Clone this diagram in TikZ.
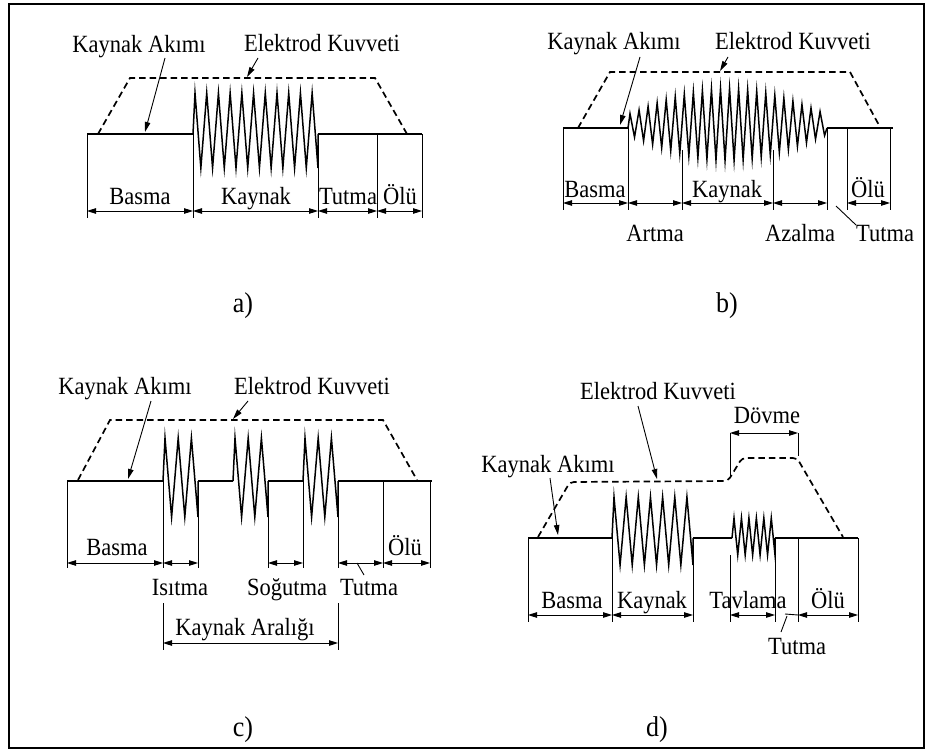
\documentclass[tikz,border=0pt]{standalone}
\usepackage{graphicx}
\usepackage{fontspec}
\setmainfont{Liberation Serif}
\usetikzlibrary{arrows.meta}
\newcommand\zigzag[6]{% x0 x1 n top bottom level
  \pgfmathsetmacro\zzp{(#2-#1-2)/(#3-0.5)}
  \pgfmathtruncatemacro\zzn{#3-1}
  \draw[wave] (#1,#6) \foreach \k in {0,...,\zzn} { -- ({#1+2+\k*\zzp},#4) -- ({#1+2+(\k+0.5)*\zzp},#5) } -- (#2,#6);
}
\newcommand\tall[1]{\scalebox{1}[1.1]{#1}}
\begin{document}
\begin{tikzpicture}[x=1pt,y=-1pt,
  lbl/.style={font=\fontsize{22.5}{26}\selectfont, inner sep=0pt, anchor=base, yshift=-8pt},
  plbl/.style={font=\fontsize{26}{30}\selectfont, inner sep=0pt, anchor=base, yshift=-9pt},
  cur/.style={line width=1.3pt},
  wave/.style={line width=1.5pt, line join=miter, miter limit=20},
  sep/.style={line width=0.8pt},
  force/.style={line width=1.7pt, dash pattern=on 6.5pt off 4pt},
  dim/.style={line width=0.9pt, {Triangle[length=9pt,width=5.5pt]}-{Triangle[length=9pt,width=5.5pt]}},
  lead/.style={line width=0.9pt, -{Triangle[length=10pt,width=5.5pt]}},
  leadplain/.style={line width=0.9pt},
]
\useasboundingbox (0,0) rectangle (928,751);
\fill[white] (0,0) rectangle (928,751);
\draw[line width=1.6pt] (9,4) rectangle (924,748);

% ================= panel a =================
\draw[force] (98,134) -- (130,78) -- (375,78) -- (407,134);
\draw[cur] (87,134) -- (193,134);
\zigzag{193}{318}{11}{93}{168}{134}
\draw[cur] (318,134) -- (422,134);
\foreach \x in {87,193,318,377,422} \draw[sep] (\x,134) -- (\x,218);
\coordinate (a0) at (87,211); \coordinate (a1) at (193,211);
\coordinate (a2) at (318,211); \coordinate (a3) at (377,211);
\coordinate (a4) at (422,211);
\draw[dim] (a0) -- (a1); \draw[dim] (a1) -- (a2);
\draw[dim] (a2) -- (a3); \draw[dim] (a3) -- (a4);
\node[lbl] (aBasma) at (140,197) {\tall{Basma}};
\node[lbl] (aKaynak) at (256,197) {\tall{Kaynak}};
\node[lbl] (aTutma) at (348,197) {\tall{Tutma}};
\node[lbl] (aOlu) at (400,197) {\tall{Ölü}};
\node[lbl] (aKA) at (139,45) {\tall{Kaynak Akımı}};
\node[lbl] (aEK) at (322,44) {\tall{Elektrod Kuvveti}};
\coordinate (aKAs) at (165,58);
\coordinate (aKAt) at (145,132);
\coordinate (aEKs) at (258,58);
\coordinate (aEKt) at (247,77);
\draw[lead] (aKAs) -- (aKAt);
\draw[lead] (aEKs) -- (aEKt);
\node[plbl] (alab) at (243,303) {\tall{a)}};

% ================= panel b =================
\draw[force] (578,128) -- (610,72) -- (850,72) -- (880,127);
\draw[cur] (563,128) -- (628,128);
\draw[wave] (628,128) \foreach \k in {0,...,21} {
   -- ({630+\k*9.05},{124.5-(10+26*sin(180*((\k*9.05+2)/199)))})
   -- ({630+(\k+0.5)*9.05},{124.5+(10+26*sin(180*(((\k+0.5)*9.05+2)/199)))}) } -- (827,128);
\draw[cur] (827,128) -- (893,128);
\foreach \x in {563,628,827,847,890} \draw[sep] (\x,128) -- (\x,210);
\foreach \x in {682,773} \draw[sep] (\x,150) -- (\x,210);
\coordinate (b0) at (563,203); \coordinate (b1) at (628,203);
\coordinate (b2) at (682,203); \coordinate (b3) at (773,203);
\coordinate (b4) at (827,203); \coordinate (b5) at (847,203);
\coordinate (b6) at (890,203);
\draw[dim] (b0) -- (b1); \draw[dim] (b1) -- (b2);
\draw[dim] (b2) -- (b3); \draw[dim] (b3) -- (b4);
\draw[dim] (b5) -- (b6);
\node[lbl] (bBasma) at (595,190) {\tall{Basma}};
\node[lbl] (bKaynak) at (727,190) {\tall{Kaynak}};
\node[lbl] (bOlu) at (868,190) {\tall{Ölü}};
\node[lbl] (bArtma) at (655,233) {\tall{Artma}};
\node[lbl] (bAzalma) at (800,233) {\tall{Azalma}};
\node[lbl] (bTutma) at (885,233) {\tall{Tutma}};
\coordinate (bTs) at (836,206);
\coordinate (bTe) at (856,225);
\draw[leadplain] (bTs) -- (bTe);
\node[lbl] (bKA) at (614,42) {\tall{Kaynak Akımı}};
\node[lbl] (bEK) at (793,42) {\tall{Elektrod Kuvveti}};
\coordinate (bKAs) at (640,57);
\coordinate (bKAt) at (620,125);
\coordinate (bEKs) at (728,57);
\coordinate (bEKt) at (720,71);
\draw[lead] (bKAs) -- (bKAt);
\draw[lead] (bEKs) -- (bEKt);
\node[plbl] (blab) at (727,303) {\tall{b)}};

% ================= panel c =================
\draw[force] (78,480) -- (110,420) -- (383,420) -- (417,480);
\draw[cur] (67,481) -- (163,481);
\zigzag{163}{198}{3}{438}{517}{481}
\draw[cur] (198,481) -- (233,481);
\zigzag{233}{268}{3}{438}{517}{481}
\draw[cur] (268,481) -- (303,481);
\zigzag{303}{338}{3}{438}{517}{481}
\draw[cur] (338,481) -- (432,481);
\foreach \x in {67,163,268,303,383,430} \draw[sep] (\x,481) -- (\x,568);
\foreach \x in {198,338} \draw[sep] (\x,517) -- (\x,568);
\coordinate (c0) at (67,563); \coordinate (c1) at (163,563);
\coordinate (c2) at (198,563); \coordinate (c3) at (268,563);
\coordinate (c4) at (303,563); \coordinate (c5) at (338,563);
\coordinate (c6) at (383,563); \coordinate (c7) at (430,563);
\draw[dim] (c0) -- (c1); \draw[dim] (c1) -- (c2);
\draw[dim] (c3) -- (c4); \draw[dim] (c5) -- (c6);
\draw[dim] (c6) -- (c7);
\node[lbl] (cBasma) at (117,547) {\tall{Basma}};
\node[lbl] (cOlu) at (405,547) {\tall{Ölü}};
\node[lbl] (cIsitma) at (180,587) {\tall{Isıtma}};
\node[lbl] (cSogutma) at (287,587) {\tall{Soğutma}};
\node[lbl] (cTutma) at (369,587) {\tall{Tutma}};
\coordinate (cTs) at (357,563);
\coordinate (cTe) at (364,575);
\draw[leadplain] (cTs) -- (cTe);
\draw[sep] (163,603) -- (163,650);
\draw[sep] (338,603) -- (338,650);
\coordinate (cA0) at (163,643); \coordinate (cA1) at (338,643);
\draw[dim] (cA0) -- (cA1);
\node[lbl] (cAral) at (245,627) {\tall{Kaynak Aralığı}};
\node[lbl] (cKA) at (125,386) {\tall{Kaynak Akımı}};
\node[lbl] (cEK) at (312,386) {\tall{Elektrod Kuvveti}};
\coordinate (cKAs) at (151,401);
\coordinate (cKAt) at (128,479);
\coordinate (cEKs) at (248,401);
\coordinate (cEKt) at (233,419);
\draw[lead] (cKAs) -- (cKAt);
\draw[lead] (cEKs) -- (cEKt);
\node[plbl] (clab) at (243,727) {\tall{c)}};

% ================= panel d =================
\draw[force, rounded corners=4pt] (538,537) -- (570,482) -- (728,481) -- (742,458) -- (797,458) -- (843,537);
\draw[cur] (528,538) -- (612,538);
\zigzag{612}{693}{7}{497}{565}{538}
\draw[cur] (693,538) -- (732,538);
\zigzag{732}{775}{6}{518}{555}{538}
\draw[cur] (775,538) -- (858,538);
\foreach \x in {528,612,798,858} \draw[sep] (\x,538) -- (\x,622);
\draw[sep] (693,565) -- (693,622);
\draw[sep] (730,555) -- (730,622);
\draw[sep] (775,555) -- (775,622);
\coordinate (d0) at (528,615); \coordinate (d1) at (612,615);
\coordinate (d2) at (693,615); \coordinate (d3) at (730,615);
\coordinate (d4) at (775,615); \coordinate (d5) at (798,615);
\coordinate (d6) at (858,615);
\coordinate (d45) at (785,614);
\draw[dim] (d0) -- (d1); \draw[dim] (d1) -- (d2);
\draw[dim] (d3) -- (d4); \draw[dim] (d5) -- (d6);
\draw[leadplain] (d45) -- (d5);
\node[lbl] (dBasma) at (572,600) {\tall{Basma}};
\node[lbl] (dKaynak) at (652,600) {\tall{Kaynak}};
\node[lbl] (dTavlama) at (748,600) {\tall{Tavlama}};
\node[lbl] (dOlu) at (828,600) {\tall{Ölü}};
\node[lbl] (dTutma) at (797,646) {\tall{Tutma}};
\coordinate (dTs) at (787,616);
\coordinate (dTe) at (781,632);
\draw[leadplain] (dTs) -- (dTe);
% Dovme
\draw[sep] (730,433) -- (730,478);
\draw[sep] (798,433) -- (798,456);
\coordinate (dD0) at (730,433); \coordinate (dD1) at (798,433);
\draw[dim] (dD0) -- (dD1);
\node[lbl] (dDovme) at (767,415) {\tall{Dövme}};
\node[lbl] (dEK) at (658,391) {\tall{Elektrod Kuvveti}};
\node[lbl] (dKA) at (548,464) {\tall{Kaynak Akımı}};
\coordinate (dEKs) at (638,406);
\coordinate (dEKt) at (657,479);
\coordinate (dKAs) at (550,478);
\coordinate (dKAt) at (558,535);
\draw[lead] (dEKs) -- (dEKt);
\draw[lead] (dKAs) -- (dKAt);
\node[plbl] (dlab) at (657,727) {\tall{d)}};
\end{tikzpicture}
\end{document}
